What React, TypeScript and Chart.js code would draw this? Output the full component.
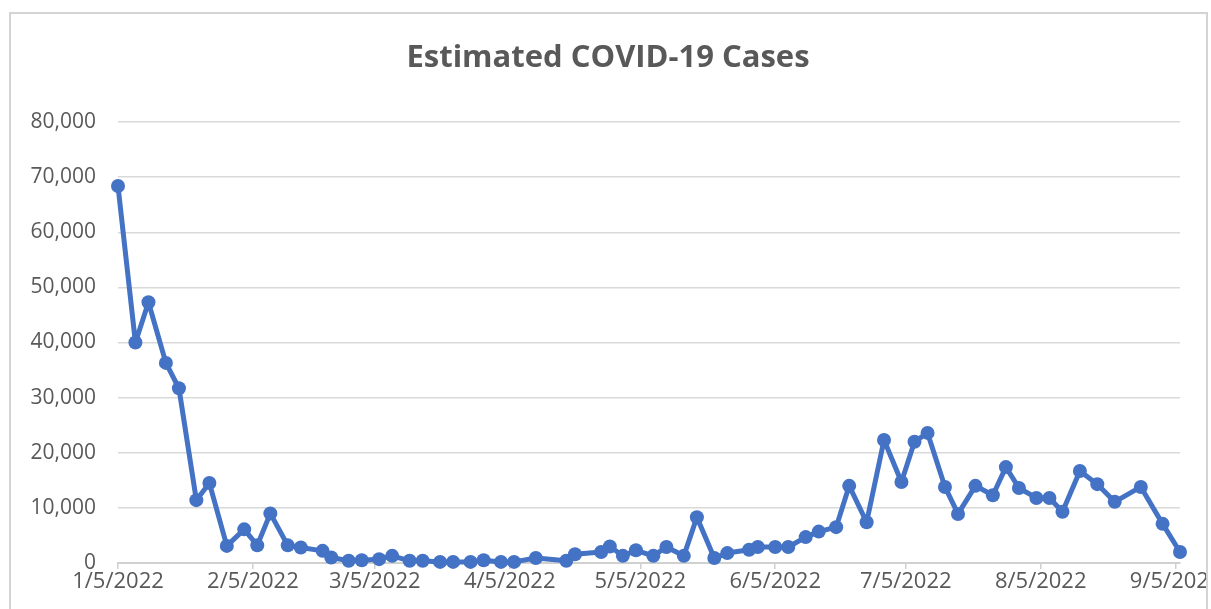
import { useEffect, useRef } from "react";
import { Chart, registerables } from "chart.js";

Chart.register(...registerables);

const chartTitle = "Estimated COVID-19 Cases";

const reportDates = [
  "2022-01-05", "2022-01-09", "2022-01-12", "2022-01-16", "2022-01-19", "2022-01-23",
  "2022-01-26", "2022-01-30", "2022-02-03", "2022-02-06", "2022-02-09", "2022-02-13",
  "2022-02-16", "2022-02-21", "2022-02-23", "2022-02-27", "2022-03-02", "2022-03-06",
  "2022-03-09", "2022-03-13", "2022-03-16", "2022-03-20", "2022-03-23", "2022-03-27",
  "2022-03-30", "2022-04-03", "2022-04-06", "2022-04-11", "2022-04-18", "2022-04-20",
  "2022-04-26", "2022-04-28", "2022-05-01", "2022-05-04", "2022-05-08", "2022-05-11",
  "2022-05-15", "2022-05-18", "2022-05-22", "2022-05-25", "2022-05-30", "2022-06-01",
  "2022-06-05", "2022-06-08", "2022-06-12", "2022-06-15", "2022-06-19", "2022-06-22",
  "2022-06-26", "2022-06-30", "2022-07-04", "2022-07-07", "2022-07-10", "2022-07-14",
  "2022-07-17", "2022-07-21", "2022-07-25", "2022-07-28", "2022-07-31", "2022-08-04",
  "2022-08-07", "2022-08-10", "2022-08-14", "2022-08-18", "2022-08-22", "2022-08-28",
  "2022-09-02", "2022-09-06",
];

const estimatedCases = [
  68400, 40000, 47300, 36300, 31700, 11400,
  14500, 3100, 6100, 3200, 9000, 3200,
  2800, 2200, 1000, 400, 500, 700,
  1300, 400, 400, 200, 200, 200,
  500, 200, 200, 900, 400, 1600,
  2000, 3000, 1300, 2300, 1300, 2900,
  1300, 8300, 900, 1800, 2400, 2900,
  2900, 2900, 4700, 5700, 6500, 14000,
  7400, 22300, 14700, 22000, 23600, 13800,
  8900, 14000, 12300, 17400, 13600, 11800,
  11800, 9300, 16700, 14300, 11100, 13800,
  7100, 2000,
];

const tickDates = [
  "2022-01-05", "2022-02-05", "2022-03-05", "2022-04-05", "2022-05-05",
  "2022-06-05", "2022-07-05", "2022-08-05", "2022-09-05",
];
const tickLabels = [
  "1/5/2022", "2/5/2022", "3/5/2022", "4/5/2022", "5/5/2022",
  "6/5/2022", "7/5/2022", "8/5/2022", "9/5/2022",
];
const yTickValues = [0, 10000, 20000, 30000, 40000, 50000, 60000, 70000, 80000];

const axisStart = "2022-01-05";
const axisEnd = "2022-09-06";

const dayOf = (s: string) =>
  (Date.parse(s + "T00:00:00Z") - Date.parse(axisStart + "T00:00:00Z")) / 86400000;

const FONT = "'Open Sans', 'DejaVu Sans', sans-serif";
const TEXT = "#595959";

export default function App() {
  const ref = useRef<HTMLCanvasElement | null>(null);

  useEffect(() => {
    const canvas = ref.current;
    if (!canvas) return;

    const frame = {
      id: "frame",
      afterDraw(chart: any) {
        const c = chart.ctx;
        c.save();
        c.fillStyle = "#ffffff";
        c.fillRect(1208, 0, 10, 609);
        c.fillRect(0, 0, 10, 609);
        c.strokeStyle = "#d4d4d4";
        c.lineWidth = 2;
        c.beginPath();
        c.moveTo(10, 620);
        c.lineTo(10, 13);
        c.lineTo(1207, 13);
        c.lineTo(1207, 620);
        c.stroke();
        c.fillStyle = TEXT;
        c.font = `700 31px ${FONT}`;
        c.textAlign = "center";
        c.textBaseline = "middle";
        c.fillText(chartTitle, 608, 58);
        c.restore();
      },
    };

    const chart = new Chart(canvas, {
      type: "line",
      data: {
        datasets: [
          {
            label: chartTitle,
            data: reportDates.map((d, i) => ({ x: dayOf(d), y: estimatedCases[i] })),
            borderColor: "#4472C4",
            backgroundColor: "#4472C4",
            borderWidth: 5,
            borderJoinStyle: "round",
            borderCapStyle: "round",
            pointRadius: 7,
            pointHoverRadius: 7,
            pointBackgroundColor: "#4472C4",
            pointBorderColor: "#4472C4",
            pointBorderWidth: 0,
            tension: 0,
            clip: false as any,
          },
        ],
      },
      options: {
        animation: false,
        responsive: false,
        events: [],
        layout: { padding: { left: 0, top: 122, right: 31, bottom: 0 } },
        plugins: {
          legend: { display: false },
          title: { display: false },
          tooltip: { enabled: false },
        },
        scales: {
          x: {
            type: "linear",
            min: 0,
            max: dayOf(axisEnd),
            afterBuildTicks: (s: any) => {
              s.ticks = tickDates.map((d) => ({ value: dayOf(d) }));
            },
            afterFit: (s: any) => {
              s.height = 46;
              s.paddingLeft = 0;
              s.paddingRight = 0;
            },
            ticks: {
              autoSkip: false,
              maxRotation: 0,
              minRotation: 0,
              color: TEXT,
              font: { family: FONT, size: 22 },
              padding: 0,
              callback: (_v: any, i: number) => tickLabels[i],
            },
            grid: {
              drawOnChartArea: false,
              drawTicks: true,
              tickLength: 6,
              color: "#cfcfcf",
              lineWidth: 1.5,
            },
            border: { display: true, color: "#d0d0d0", width: 2 },
          },
          y: {
            min: 0,
            max: 80000,
            afterBuildTicks: (s: any) => {
              s.ticks = yTickValues.map((v) => ({ value: v }));
            },
            afterFit: (s: any) => {
              s.width = 118;
            },
            ticks: {
              color: TEXT,
              font: { family: FONT, size: 21 },
              padding: 22,
              callback: (v: any) => Number(v).toLocaleString("en-US"),
            },
            grid: { drawTicks: false, color: "#d9d9d9", lineWidth: 1.5 },
            border: { display: false },
          },
        },
      },
      plugins: [frame],
    });

    return () => chart.destroy();
  }, []);

  return (
    <canvas
      ref={ref}
      width={1211}
      height={609}
      style={{ position: "absolute", left: 0, top: 0, width: 1211, height: 609 }}
    />
  );
}
